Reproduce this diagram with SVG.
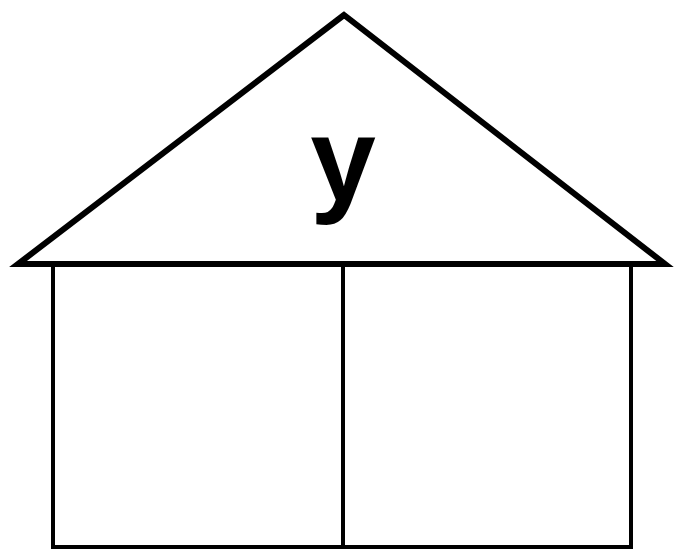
<svg xmlns="http://www.w3.org/2000/svg" width="675" height="550" viewBox="0 0 675 550">
<style>
.roof{fill:none;stroke:#000;stroke-width:6;stroke-linejoin:miter}
.wall{fill:none;stroke:#000;stroke-width:4}
.lbl{font-family:"Liberation Sans",Arial,sans-serif;font-weight:bold;font-size:118px;fill:#000;text-anchor:middle}
</style>
<rect width="675" height="550" fill="#fff"/>
<g id="walls">
<rect class="wall" x="53" y="264" width="578" height="283"/>
<line class="wall" x1="343" y1="264" x2="343" y2="547"/>
</g>
<g id="roof">
<polygon class="roof" points="344,15 18,264 665,264"/>
<text class="lbl" x="343" y="200">y</text>
</g>
</svg>
